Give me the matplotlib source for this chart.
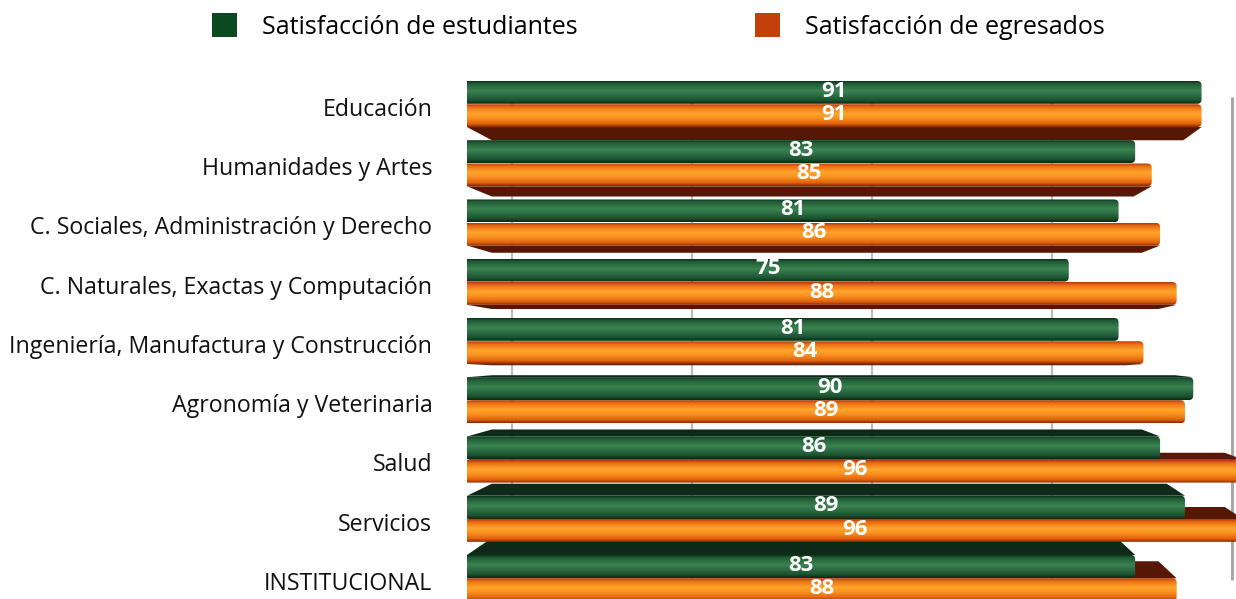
import matplotlib
matplotlib.use("Agg")
import matplotlib.pyplot as plt
import numpy as np
from matplotlib.patches import FancyBboxPatch, Polygon, Patch
from matplotlib.colors import LinearSegmentedColormap

# ---------------- data ----------------
categories = ["Educación", "Humanidades y Artes", "C. Sociales, Administración y Derecho",
              "C. Naturales, Exactas y Computación", "Ingeniería, Manufactura y Construcción",
              "Agronomía y Veterinaria", "Salud", "Servicios", "INSTITUCIONAL"]
estudiantes = [91, 83, 81, 75, 81, 90, 86, 89, 83]
egresados = [91, 85, 86, 88, 84, 89, 96, 96, 88]
series_names = ["Satisfacción de estudiantes", "Satisfacción de egresados"]
grid_values = [0, 20, 40, 60, 80]

plt.rcParams['font.family'] = ['Open Sans', 'DejaVu Sans']

# ---------------- styles ----------------
green_stops = [(0.0, "#0b3118"), (0.10, "#1f5a33"), (0.42, "#3a8351"), (0.58, "#2f7246"),
               (0.85, "#1b5230"), (1.0, "#082812")]
orange_stops = [(0.0, "#b5380a"), (0.14, "#ec7214"), (0.40, "#ffa42c"), (0.60, "#fb9322"),
                (0.86, "#e2620c"), (1.0, "#8a2804")]
green_face = "#0c2a16"
orange_face = "#561804"
legend_colors = ["#0b4a1f", "#c2400c"]


def vgrad(stops, n=96):
    cmap = LinearSegmentedColormap.from_list("g", stops)
    return cmap(np.linspace(0, 1, n))[:, :3].reshape(n, 1, 3)


green_img = vgrad(green_stops)
orange_img = vgrad(orange_stops)

fig = plt.figure(figsize=(12.36, 5.99), dpi=100)
ax = fig.add_axes([467 / 1236, 0.0, 769 / 1236, 529 / 599])
ax2 = ax.twiny()

X_MIN, X_MAX = 2.5, 2.5 + 769 / 8.3
Y_TOP, Y_BOT = -0.574, 8.354
H = 0.385
GAP = 0.008


def draw_bar(x0, x1, ytop, h, img):
    patch = FancyBboxPatch((x0 - 1.5, ytop), x1 - x0 + 1.5, h,
                           boxstyle="round,pad=0,rounding_size=0.55",
                           mutation_aspect=0.13, fc="none", ec="none", zorder=3)
    ax.add_patch(patch)
    im = ax.imshow(img, extent=(x0 - 1.5, x1, ytop + h, ytop), origin="upper",
                   aspect="auto", interpolation="bilinear", zorder=3)
    im.set_clip_path(patch)


def depth(i):
    # visible 3D face depth (in y data units); positive = bottom face, negative = top face
    if i < 4.4:
        px = 3.0 * (4.4 - i)
    elif i > 4.6:
        px = -5.0 * (i - 4.6)
    else:
        px = 0.0
    return px / 59.25


def face(x0, x1, yedge, d, color):
    inset_l, inset_r = 3.0, 2.2
    pts = [(x0, yedge), (x1, yedge), (x1 - inset_r, yedge + d), (x0 + inset_l, yedge + d)]
    ax.add_patch(Polygon(pts, closed=True, fc=color, ec="none", zorder=2))


for i, (cat, ve, vg) in enumerate(zip(categories, estudiantes, egresados)):
    d = depth(i)
    g_top = i - H - GAP / 2
    o_top = i + GAP / 2
    if d > 0:
        face(X_MIN, vg, o_top + H, d, orange_face)
    elif d < 0:
        face(X_MIN, vg, o_top, d, orange_face)
        face(X_MIN, ve, g_top, d, green_face)
    draw_bar(X_MIN, ve, g_top, H, green_img)
    draw_bar(X_MIN, vg, o_top, H, orange_img)
    ax.text((X_MIN + ve) / 2, g_top + H / 2 - 0.02, f"{ve}", color="white", fontsize=16,
            fontweight="bold", ha="center", va="center", zorder=5)
    ax.text((X_MIN + vg) / 2, o_top + H / 2 - 0.02, f"{vg}", color="white", fontsize=16,
            fontweight="bold", ha="center", va="center", zorder=5)

ax.set_xlim(X_MIN, X_MAX)
ax.set_ylim(Y_BOT, Y_TOP)
ax.set_yticks(np.arange(len(categories)) + 0.05)
ax.set_yticklabels(categories, fontsize=16.7, color="#111111")
ax.tick_params(axis="y", length=0, pad=25)
ax.set_xticks([])
for s in ax.spines.values():
    s.set_visible(False)

# back wall grid
ax2.set_xlim(-5.0, -5.0 + 769 / 9.0)
ax2.vlines(grid_values[:-1], -0.12, 8.03, color="#bcbcbc", lw=1.6, zorder=1)
ax2.vlines(grid_values[-1:], -0.12, 8.03, color="#a8a8a8", lw=2.2, zorder=1)
ax2.set_xticks([])
for s in ax2.spines.values():
    s.set_visible(False)
ax.set_zorder(ax2.get_zorder() + 1)
ax.patch.set_visible(False)

handles = [Patch(facecolor=c, edgecolor="none") for c in legend_colors]
fig.legend(handles, series_names, loc="center left", bbox_to_anchor=(212 / 1236, 1 - 26.5 / 599),
           ncol=2, frameon=False, fontsize=18, handlelength=1.0, handleheight=1.08,
           handletextpad=1.0, columnspacing=7.1, borderpad=0, borderaxespad=0)

fig.savefig("out.png", dpi=100)
